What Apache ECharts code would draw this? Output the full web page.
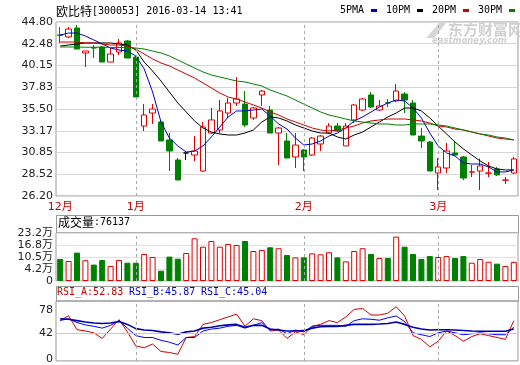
<!DOCTYPE html>
<html><head><meta charset="utf-8">
<script src="https://cdn.jsdelivr.net/npm/echarts@6/dist/echarts.min.js"></script>
<style>html,body{margin:0;padding:0;background:#fff}#c{width:520px;height:365px}</style>
</head><body><div id="c"></div>
<script>
const dates = ['2015-12-21','2015-12-22','2015-12-23','2015-12-24','2015-12-25','2015-12-28','2015-12-29','2015-12-30','2015-12-31',
 '2016-01-04','2016-01-05','2016-01-06','2016-01-07','2016-01-08','2016-01-11','2016-01-12','2016-01-13','2016-01-14','2016-01-15',
 '2016-01-18','2016-01-19','2016-01-20','2016-01-21','2016-01-22','2016-01-25','2016-01-26','2016-01-27','2016-01-28','2016-01-29',
 '2016-02-01','2016-02-02','2016-02-03','2016-02-04','2016-02-05','2016-02-15','2016-02-16','2016-02-17','2016-02-18','2016-02-19',
 '2016-02-22','2016-02-23','2016-02-24','2016-02-25','2016-02-26','2016-02-29',
 '2016-03-01','2016-03-02','2016-03-03','2016-03-04','2016-03-07','2016-03-08','2016-03-09','2016-03-10','2016-03-11','2016-03-14'];
const opens = [43.41,43.20,44.16,41.49,42.05,42.13,40.52,41.59,42.77,41.06,
 33.68,35.07,34.11,32.19,30.05,30.80,30.58,28.87,32.93,33.26,
 35.07,36.14,36.03,34.54,37.00,35.39,32.93,32.08,30.37,31.12,
 30.58,31.76,32.93,33.68,31.55,34.33,35.39,37.00,35.39,36.16,
 36.36,37.10,36.14,32.61,31.97,28.66,29.19,30.80,30.37,28.75,
 28.87,28.64,29.09,27.89,28.66];
const closes = [43.38,44.05,41.91,41.70,42.02,40.52,41.38,42.56,40.95,36.78,
 34.86,35.50,32.08,31.01,27.91,30.80,31.01,33.58,34.33,35.29,
 36.14,36.57,33.79,35.61,37.42,32.93,33.47,30.26,31.65,30.37,
 32.40,32.61,33.68,33.15,33.68,35.93,36.57,35.71,35.82,36.14,
 37.42,36.46,32.72,32.08,28.87,29.30,31.01,30.58,28.12,28.77,
 29.41,28.66,28.45,27.91,30.16];
const lows = [42.56,43.09,41.91,39.99,40.95,40.52,40.52,41.27,40.95,36.78,
 33.15,33.90,32.08,28.87,27.91,30.05,29.94,28.77,32.83,32.90,
 34.54,35.82,33.58,34.33,35.82,32.93,29.51,30.26,29.19,28.87,
 30.48,31.01,32.83,33.04,31.55,34.00,35.29,35.61,35.29,35.71,
 36.25,35.07,32.72,31.33,28.87,26.84,28.66,30.48,27.91,28.23,
 26.84,28.23,28.34,27.48,28.55];
const highs = [44.27,44.27,44.48,41.70,42.34,42.23,42.02,42.98,42.88,41.17,
 36.03,36.03,34.33,32.93,30.26,30.80,32.61,34.11,35.61,36.46,
 36.68,38.92,37.42,35.71,37.53,35.82,33.58,32.93,32.93,31.23,
 32.51,32.72,34.00,34.00,34.00,36.03,36.68,37.32,36.46,36.57,
 38.17,37.32,36.46,33.47,32.08,30.26,31.87,32.08,30.48,29.51,
 30.20,29.83,29.30,28.23,30.37];
const ma5 = [43.41,43.62,43.62,43.30,42.88,42.45,42.02,41.81,41.70,41.17,
 39.78,37.32,34.11,32.40,31.55,30.90,31.01,31.55,32.51,33.58,
 34.65,35.29,35.29,35.39,35.50,34.75,33.90,33.36,32.40,31.65,
 31.76,32.08,32.61,32.93,33.47,34.22,34.65,35.18,35.71,36.14,
 36.46,36.36,35.61,34.54,32.93,31.55,30.80,30.48,29.73,29.62,
 29.62,29.30,28.77,28.77,28.98];
const ma10 = [42.23,42.34,42.45,42.56,42.56,42.56,42.56,42.45,42.34,41.81,
 40.52,39.56,38.49,37.32,36.14,35.18,34.22,33.47,33.04,32.83,
 32.72,32.72,32.93,33.26,34.11,34.65,34.54,34.22,33.79,33.47,
 33.15,32.93,32.93,32.51,32.29,32.72,33.04,33.58,34.11,34.65,
 35.07,35.61,35.61,35.29,34.54,33.68,32.83,31.97,31.23,30.58,
 29.94,29.41,29.09,28.98,28.98];
const ma20 = [42.66,42.66,42.66,42.56,42.56,42.45,42.34,42.34,42.23,41.91,
 41.38,40.85,40.42,40.10,39.67,39.24,38.81,38.28,37.75,37.21,
 36.78,36.57,36.25,35.93,35.61,35.18,34.86,34.43,34.11,33.79,
 33.47,33.26,33.15,33.26,33.47,33.68,34.00,34.22,34.33,34.43,
 34.43,34.43,34.33,34.22,34.00,33.68,33.58,33.36,33.26,33.04,
 32.83,32.61,32.40,32.29,32.19];
const ma30 = [42.13,42.13,42.13,42.10,42.10,42.10,42.08,42.08,42.05,42.02,
 41.91,41.70,41.49,41.17,40.74,40.31,39.88,39.46,39.13,38.92,
 38.71,38.49,38.39,38.17,37.96,37.53,37.21,36.89,36.46,36.03,
 35.61,35.18,34.86,34.65,34.43,34.22,34.11,34.00,33.90,33.90,
 33.79,33.79,33.90,33.90,33.90,33.79,33.68,33.47,33.26,33.04,
 32.83,32.72,32.51,32.40,32.19];
const volumes = [11.55,10.5,14.9,10.9,8.6,11.0,7.9,11.0,9.6,9.6,
 14.2,12.6,5.4,12.8,11.7,14.7,22.4,18.0,21.0,18.0,
 19.4,18.9,21.0,15.75,16.3,17.7,17.2,13.65,12.4,12.4,
 14.5,14.0,15.1,12.4,10.3,15.75,17.2,14.2,12.1,12.1,
 23.3,18.0,14.2,11.55,13.1,12.6,13.1,12.1,13.1,9.6,
 11.55,10.1,9.1,7.9,10.0];
const rsiA = [61.7,69.1,47.0,45.0,42.1,33.2,48.0,62.8,43.6,21.4,
 18.5,24.4,12.6,11.1,8.1,34.7,36.2,55.4,58.3,62.8,
 67.2,71.6,52.4,64.2,61.3,45.0,46.5,33.2,43.6,39.1,
 52.4,55.4,61.3,58.3,67.2,79.0,80.5,70.2,70.2,73.1,
 83.4,68.7,37.7,31.8,19.9,28.8,45.0,37.7,28.8,36.2,
 40.6,37.7,34.7,31.8,61.3];
const rsiB = [61.7,64.2,58.3,54.6,52.4,49.5,53.9,61.3,49.5,37.7,
 34.7,34.7,30.3,27.3,22.9,34.7,34.7,45.0,48.0,49.5,
 52.4,53.9,49.5,53.9,58.3,46.5,48.0,40.6,46.5,43.6,
 52.4,53.9,53.9,53.9,52.4,61.3,64.2,63.5,62.0,65.7,
 68.7,59.8,42.1,39.1,36.2,42.1,45.0,42.1,39.1,40.6,
 42.1,40.6,39.1,39.1,51.0];
const rsiC = [64.2,63.5,61.3,59.1,57.6,56.9,57.6,59.8,55.4,48.7,
 46.5,45.8,43.6,42.1,39.9,43.6,45.0,49.5,51.0,53.2,
 54.6,55.4,51.0,53.9,53.9,48.0,46.5,45.0,45.0,45.5,
 49.5,51.7,52.0,52.0,53.9,55.4,55.4,55.4,56.1,56.9,
 59.1,55.4,51.0,48.0,46.5,47.0,47.0,46.5,45.8,45.0,
 44.6,44.6,44.6,44.6,48.0];
const priceTicks = [26.20,28.52,30.85,33.17,35.50,37.83,40.15,42.48,44.80];
const volTickPos = [0,6.3,12.6,18.9,25.2];
const volTickLabels = ['0','4.2万','10.5万','16.8万','23.2万'];
const rsiTicks = [0,42,78];
const rsiLast = ['52.83','45.87','45.04'];
const lastVolume = '76137';
const stockName = '欧比特';
const stockCode = '300053';
const stamp = '2016-03-14 13:41';
const legendNames = ['5PMA','10PM','20PM','30PM'];

const RED = '#e00000', GREEN = '#008000';
const UP_RED = '#e00000';
const maColors = ['#0000cc','#000000','#d00000','#008000'];

const monthStarts = [];
dates.forEach((d,i)=>{ if(i===0 || d.slice(5,7)!==dates[i-1].slice(5,7)) monthStarts.push(i); });
const monthLines = monthStarts.slice(1).map(i=>({xAxis: dates[i]}));
const dashLine = {silent:true, symbol:'none', animation:false, label:{show:false},
  lineStyle:{color:'#a8a8a8', type:[3,3], width:1}, data: monthLines};

function isUp(i){
  if (closes[i] > opens[i]) return true;
  if (closes[i] < opens[i]) return false;
  return i>0 ? closes[i] >= closes[i-1] : true;
}
const candleData = dates.map((d,i)=>{
  const item = {value:[opens[i],closes[i],lows[i],highs[i]]};
  if (opens[i]===closes[i]) item.itemStyle = {borderColor:'#000',borderColor0:'#000',color:'#000',color0:'#000'};
  return item;
});
const volData = volumes.map((v,i)=>({value:v, itemStyle: isUp(i)
  ? {color:'#ffffff', borderColor:UP_RED, borderWidth:1}
  : {color:GREEN, borderColor:GREEN, borderWidth:1}}));

const FONT = "'DejaVu Sans','Noto Sans CJK SC'";
const MONO = "'DejaVu Sans Mono','Noto Sans CJK SC'";
const CJK = "'Noto Sans CJK SC'";

function xAx(g, labels){
  return {type:'category', gridIndex:g, data:dates, boundaryGap:true,
    axisLine:{show:false}, axisTick:{show:false},
    splitLine:{show:false},
    axisLabel: labels ? {show:true, interval:(idx)=>monthStarts.includes(idx),
      formatter:(v)=>parseInt(v.slice(5,7),10)+'月', color:'#cc0000', fontFamily:FONT, fontSize:11, margin:6}
      : {show:false}};
}
const maSeries = [ma5,ma10,ma20,ma30].map((arr,k)=>({
  type:'line', name:legendNames[k], xAxisIndex:0, yAxisIndex:0, data:arr, showSymbol:false, symbol:'none',
  lineStyle:{width:1, color:maColors[k]}, itemStyle:{color:maColors[k]}, z:3, silent:true, animation:false}));
const rsiSeries = [[rsiA,'#cc0000',1],[rsiB,'#0000ff',1],[rsiC,'#0000aa',1.6]].map((a,k)=>({
  type:'line', xAxisIndex:2, yAxisIndex:2, data:a[0], showSymbol:false, symbol:'none',
  lineStyle:{width:a[2], color:a[1]}, z:3, silent:true, animation:false,
  markLine: k===0 ? {silent:true, symbol:'none', label:{show:false}, lineStyle:{color:'#c8c8c8', type:'solid', width:1},
     data:[{yAxis:42}].concat(monthLines.map(m=>Object.assign({},m,{lineStyle:{color:'#a8a8a8',type:[3,3]}})))} : undefined
}));

const legendX = [340,386,432,478];
const graphics = [];
graphics.push({type:'text', left:56, top:5, style:{
  text:'{c|'+stockName+'}{m|['+stockCode+'] '+stamp+'}',
  rich:{c:{fontFamily:CJK, fontSize:12, fill:'#000'}, m:{fontFamily:MONO, fontSize:10, fill:'#000'}}}});
legendNames.forEach((n,k)=>{
  graphics.push({type:'text', left:legendX[k], top:5, style:{text:n, fontFamily:MONO, fontSize:10, fill:'#000'}});
  graphics.push({type:'rect', shape:{x:legendX[k]+n.length*6+7, y:9, width:6, height:3}, style:{fill:maColors[k]}});
});
// watermark
graphics.push({type:'polygon', shape:{points:[[426,38],[440,22],[447,22],[434,38]]}, style:{fill:'#d6d6d6'}});
graphics.push({type:'text', left:448, top:22, style:{text:'东方财富网', fontFamily:CJK, fontSize:15, fontWeight:'bold', fill:'#d0d0d0'}});
graphics.push({type:'text', left:432, top:37, style:{text:'eastmoney.com', fontFamily:FONT, fontSize:8.5, fontStyle:'italic', fontWeight:'bold', fill:'#d0d0d0'}});
// header boxes
graphics.push({type:'rect', shape:{x:56.5, y:215.5, width:462, height:17.5}, style:{fill:'none', stroke:'#999', lineWidth:1}});
graphics.push({type:'text', left:58, top:216, style:{
  text:'{c|成交量}{m|:'+lastVolume+'}',
  rich:{c:{fontFamily:CJK, fontSize:12, fill:'#000'}, m:{fontFamily:MONO, fontSize:10, fill:'#000'}}}});
graphics.push({type:'rect', shape:{x:56.5, y:286.5, width:462, height:14.5}, style:{fill:'none', stroke:'#999', lineWidth:1}});
const rsiHeadX = [57,129,201], rsiHeadCol = ['#cc0000','#0000cc','#0000cc'];
['RSI_A','RSI_B','RSI_C'].forEach((n,k)=>{
  graphics.push({type:'text', left:rsiHeadX[k], top:287, style:{text:n+':'+rsiLast[k], fontFamily:MONO, fontSize:10, fill:rsiHeadCol[k]}});
});

const option = {
  animation:false,
  backgroundColor:'#ffffff',
  grid:[
    {left:56, top:22, width:462, height:174, show:true, borderColor:'#999', borderWidth:1, backgroundColor:'transparent'},
    {left:56, top:233, width:462, height:48, show:true, borderColor:'#999', borderWidth:1},
    {left:56, top:301, width:462, height:64, show:true, borderColor:'#999', borderWidth:1}
  ],
  xAxis:[xAx(0,true), xAx(1,false), xAx(2,false)],
  yAxis:[
    {type:'value', gridIndex:0, min:26.20, max:44.80, scale:true,
     axisLine:{show:false}, axisTick:{show:false, customValues:priceTicks},
     axisLabel:{customValues:priceTicks, formatter:(v)=>v.toFixed(2), color:'#222', fontFamily:FONT, fontSize:11, margin:3},
     splitLine:{show:true, lineStyle:{color:'#d6d6d6', width:1}}},
    {type:'value', gridIndex:1, min:0, max:25.2,
     axisLine:{show:false}, axisTick:{show:false, customValues:volTickPos},
     axisLabel:{customValues:volTickPos, formatter:(v)=>{const k=volTickPos.findIndex(p=>Math.abs(p-v)<0.01);return k>=0?volTickLabels[k]:'';},
       color:'#222', fontFamily:FONT, fontSize:11, margin:3},
     splitLine:{show:true, lineStyle:{color:'#e0e0e0', width:1}}},
    {type:'value', gridIndex:2, min:-2.2, max:92.3,
     axisLine:{show:false}, axisTick:{show:false, customValues:rsiTicks},
     axisLabel:{customValues:rsiTicks, color:'#222', fontFamily:FONT, fontSize:11, margin:3},
     splitLine:{show:false}}
  ],
  series:[
    {type:'candlestick', xAxisIndex:0, yAxisIndex:0, data:candleData, barWidth:6, z:2,
     itemStyle:{color:'#ffffff', color0:GREEN, borderColor:RED, borderColor0:GREEN, borderWidth:1},
     markLine:dashLine, silent:true, animation:false},
    ...maSeries,
    {type:'bar', xAxisIndex:1, yAxisIndex:1, data:volData, barWidth:6, silent:true, animation:false,
     markLine:dashLine},
    ...rsiSeries
  ],
  graphic: graphics
};
const chart = echarts.init(document.getElementById('c'), null, {renderer:'canvas'});
chart.setOption(option);
</script>
</body></html>
